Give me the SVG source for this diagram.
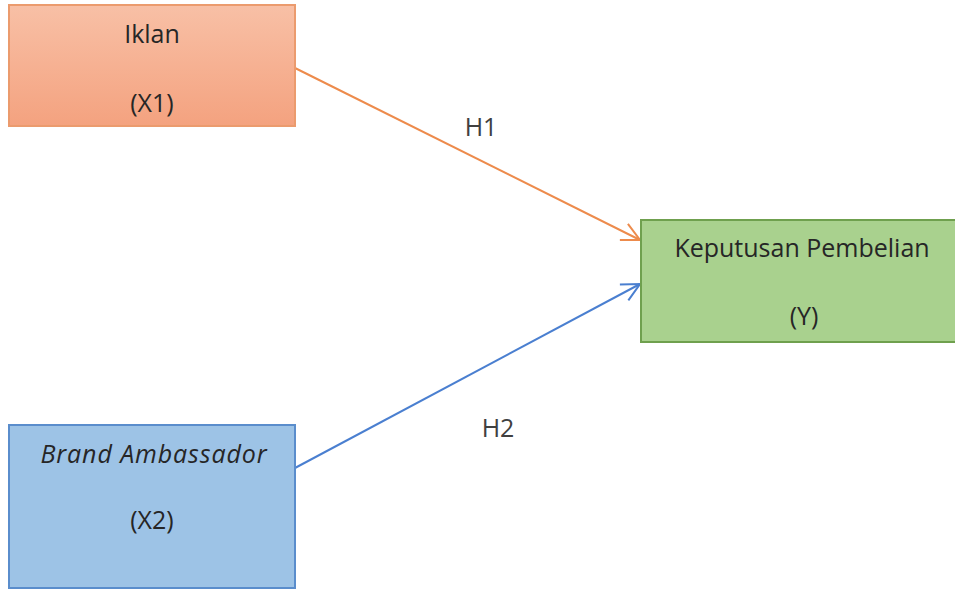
<svg xmlns="http://www.w3.org/2000/svg" width="955" height="591" viewBox="0 0 955 591">
<defs>
<linearGradient id="gOrange" x1="0" y1="0" x2="0" y2="1">
<stop offset="0" stop-color="#f8c0a6"/>
<stop offset="1" stop-color="#f4a27f"/>
</linearGradient>
<marker id="arrO" markerWidth="22" markerHeight="22" refX="20" refY="11" orient="auto" markerUnits="userSpaceOnUse">
<path d="M2,2 L20,11 L2,20" fill="none" stroke="#ed8b4c" stroke-width="2"/>
</marker>
<marker id="arrB" markerWidth="22" markerHeight="22" refX="20" refY="11" orient="auto" markerUnits="userSpaceOnUse">
<path d="M2,2 L20,11 L2,20" fill="none" stroke="#4a7fd0" stroke-width="2"/>
</marker>
</defs>
<style>
text { font-family: "Open Sans", "Liberation Sans", sans-serif; font-size: 25px; fill: #262626; text-anchor: middle; }
.lbl { font-size: 25px; fill: #404040; }
</style>
<rect width="955" height="591" fill="#ffffff"/>
<g id="connectors">
<line x1="295" y1="68" x2="640" y2="240" stroke="#ed8b4c" stroke-width="2" marker-end="url(#arrO)"/>
<line x1="295" y1="468" x2="640" y2="284" stroke="#4a7fd0" stroke-width="2" marker-end="url(#arrB)"/>
<text class="lbl" x="481" y="136">H1</text>
<text class="lbl" x="498" y="437">H2</text>
</g>
<g id="iklan">
<rect x="9" y="5" width="286" height="121" fill="url(#gOrange)" stroke="#eb9b6e" stroke-width="2"/>
<text x="152" y="43">Iklan</text>
<text x="152" y="112">(X1)</text>
</g>
<g id="brand">
<rect x="9" y="425" width="286" height="163" fill="#9dc3e6" stroke="#5a8dcc" stroke-width="2"/>
<text x="154" y="463" font-style="italic" letter-spacing="0.9">Brand Ambassador</text>
<text x="152" y="529">(X2)</text>
</g>
<g id="keputusan">
<rect x="641" y="220" width="320" height="122" fill="#a9d18e" stroke="#6fa04e" stroke-width="2"/>
<text x="802" y="257">Keputusan Pembelian</text>
<text x="804" y="325">(Y)</text>
</g>
</svg>
